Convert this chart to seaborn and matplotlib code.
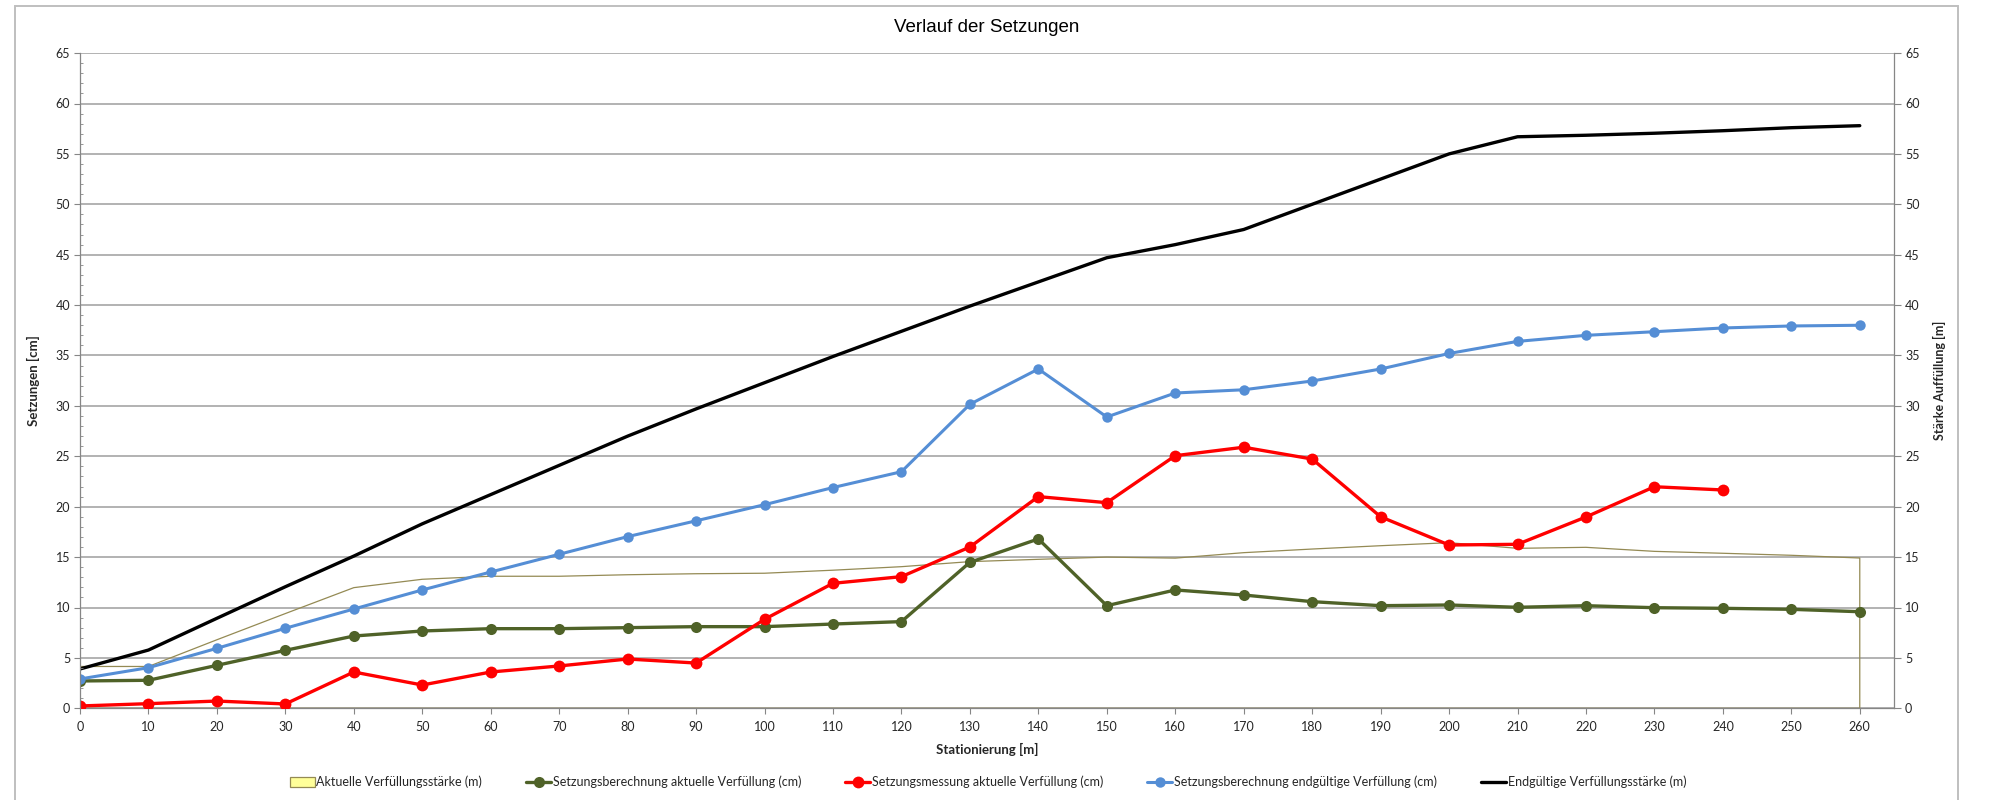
import numpy as np
import pandas as pd
import matplotlib
matplotlib.use("Agg")
import matplotlib.pyplot as plt
from matplotlib.patches import Patch, Rectangle
from matplotlib.lines import Line2D
from matplotlib.ticker import MultipleLocator
import seaborn as sns

# ---------------- data ----------------
stations = [0, 10, 20, 30, 40, 50, 60, 70, 80, 90, 100, 110, 120, 130,
            140, 150, 160, 170, 180, 190, 200, 210, 220, 230, 240, 250, 260]
aktuelle_verfuellung_m = [4.15, 4.15, 6.8, 9.4, 11.97, 12.8, 13.1, 13.1, 13.25, 13.35,
                          13.4, 13.7, 14.05, 14.55, 14.78, 15.0, 14.9, 15.44, 15.8,
                          16.13, 16.43, 15.87, 15.97, 15.57, 15.38, 15.18, 14.91]
setzung_berechnung_aktuell_cm = [2.71, 2.78, 4.26, 5.75, 7.17, 7.67, 7.9, 7.9, 8.0, 8.1,
                                 8.1, 8.36, 8.6, 14.48, 16.8, 10.18, 11.74, 11.24, 10.58,
                                 10.18, 10.25, 10.02, 10.18, 9.98, 9.92, 9.82, 9.58]
setzung_messung_aktuell_cm = [0.23, 0.46, 0.72, 0.43, 3.6, 2.31, 3.6, 4.2, 4.89, 4.49,
                              8.83, 12.4, 13.06, 16.0, 21.0, 20.4, 25.06, 25.9, 24.73,
                              19.0, 16.2, 16.27, 18.98, 21.98, 21.66, np.nan, np.nan]
setzung_berechnung_endgueltig_cm = [2.91, 4.03, 5.95, 7.94, 9.85, 11.74, 13.52, 15.28, 17.03,
                                    18.6, 20.2, 21.9, 23.47, 30.16, 33.66, 28.9, 31.28, 31.6,
                                    32.47, 33.66, 35.2, 36.4, 37.0, 37.36, 37.73, 37.93, 38.0]
endgueltige_verfuellung_m = [3.9, 5.78, 8.93, 12.06, 15.1, 18.3, 21.2, 24.1, 27.0, 29.7,
                             32.3, 34.9, 37.4, 39.9, 42.3, 44.7, 46.0, 47.5, 50.0, 52.5,
                             55.0, 56.7, 56.85, 57.05, 57.3, 57.6, 57.8]

labels = ["Aktuelle Verfüllungsstärke (m)",
          "Setzungsberechnung aktuelle Verfüllung (cm)",
          "Setzungsmessung aktuelle Verfüllung (cm)",
          "Setzungsberechnung endgültige Verfüllung (cm)",
          "Endgültige Verfüllungsstärke (m)"]
title = "Verlauf der Setzungen"
xlabel = "Stationierung [m]"
ylabel_left = "Setzungen [cm]"
ylabel_right = "Stärke Auffüllung [m]"

# ---------------- style ----------------
sns.set_theme(style="white")
plt.rcParams['font.family'] = ['Lato', 'DejaVu Sans']

C_GREEN = "#4F6228"
C_RED = "#FF0000"
C_BLUE = "#558ED5"
C_BLACK = "#000000"
C_AREA = "#948A54"
C_GRID = "#A6A6A6"
C_AXIS = "#868686"
C_TEXT = "#262626"

MS_GREEN, MS_RED, MS_BLUE = 8.0, 8.5, 7.5

W, H = 1991, 800
fig = plt.figure(figsize=(W / 100, H / 100), dpi=100)
left, right = 80 / W, 1894 / W
bottom, top = 1 - 708.3 / H, 1 - 53.1 / H
base = fig.add_axes([left, bottom, right - left, top - bottom])   # secondary y (right) + x axis + grid
ax = base.twinx()                                                  # primary y (left), drawn on top
ax.yaxis.tick_left()
ax.yaxis.set_label_position("left")
base.yaxis.tick_right()
base.yaxis.set_label_position("right")
ax.set_zorder(base.get_zorder() + 1)
ax.patch.set_visible(False)

df = pd.DataFrame({
    "station": stations,
    "akt_m": aktuelle_verfuellung_m,
    "ber_akt": setzung_berechnung_aktuell_cm,
    "mess": setzung_messung_aktuell_cm,
    "ber_end": setzung_berechnung_endgueltig_cm,
    "end_m": endgueltige_verfuellung_m,
})

# secondary axis: area outline and final fill thickness
base.fill_between(df["station"], 0, df["akt_m"], facecolor="none",
                  edgecolor=C_AREA, linewidth=0.9, zorder=2)
sns.lineplot(data=df, x="station", y="end_m", ax=base, color=C_BLACK,
             linewidth=2.4, legend=False, zorder=3)

# primary axis
sns.lineplot(data=df, x="station", y="ber_akt", ax=ax, color=C_GREEN,
             linewidth=2.4, marker="o", markersize=MS_GREEN, markeredgewidth=0,
             legend=False)
dm = df[df["mess"].notna()]
sns.lineplot(data=dm, x="station", y="mess", ax=ax, color=C_RED,
             linewidth=2.4, marker="o", markersize=MS_RED, markeredgewidth=0,
             legend=False)
sns.lineplot(data=df, x="station", y="ber_end", ax=ax, color=C_BLUE,
             linewidth=2.2, marker="o", markersize=MS_BLUE, markeredgewidth=0,
             legend=False)

for a in (ax, base):
    a.set_xlim(0, 265)
    a.set_ylim(0, 65)
    a.yaxis.set_major_locator(MultipleLocator(5))
    for s in a.spines.values():
        s.set_visible(False)

base.xaxis.set_major_locator(MultipleLocator(10))
ax.yaxis.set_minor_locator(MultipleLocator(1))

base.grid(axis="y", color=C_GRID, linewidth=1.2)
base.grid(axis="x", visible=False)
ax.grid(False)

ax.spines["left"].set_visible(True)
ax.spines["left"].set_color(C_AXIS)
base.spines["bottom"].set_visible(True)
base.spines["bottom"].set_color(C_AXIS)
base.spines["right"].set_visible(True)
base.spines["right"].set_color(C_AXIS)
for sp in (ax.spines["left"], base.spines["bottom"], base.spines["right"]):
    sp.set_linewidth(0.9)

ax.tick_params(axis="y", which="major", direction="out", length=4, width=0.8,
               color=C_AXIS, labelsize=9, labelcolor=C_TEXT, pad=3, left=True)
ax.tick_params(axis="y", which="minor", direction="in", length=2.5, width=0.6,
               color=C_AXIS, left=True)
base.tick_params(axis="x", which="major", direction="out", length=4, width=0.8,
                 color=C_AXIS, labelsize=9, labelcolor=C_TEXT, pad=5, bottom=True)
base.tick_params(axis="y", which="major", direction="out", length=5, width=0.8,
                 color=C_AXIS, labelsize=9, labelcolor=C_TEXT, pad=3, right=True)

base.set_xlabel(xlabel, fontsize=9.5, fontweight="bold", color=C_TEXT)
base.xaxis.set_label_coords(0.5, -(743 - 708.3) / 655.2)
ax.set_ylabel(ylabel_left, fontsize=9.5, fontweight="bold", color=C_TEXT)
ax.yaxis.set_label_coords((40 - 80) / 1814, 0.5)
base.set_ylabel(ylabel_right, fontsize=9, fontweight="bold", color=C_TEXT,
                rotation=90)
base.yaxis.set_label_coords((1933 - 80) / 1814, 0.5)

fig.text(987 / W, 1 - 28 / H, title, ha="center", va="center",
         fontsize=13.5, family=["Liberation Sans", "DejaVu Sans"], color="#000000")

handles = [
    Patch(facecolor="#FFFF99", edgecolor=C_AREA, linewidth=0.9),
    Line2D([], [], color=C_GREEN, lw=2.4, marker="o", markersize=MS_GREEN, markeredgewidth=0),
    Line2D([], [], color=C_RED, lw=2.4, marker="o", markersize=MS_RED, markeredgewidth=0),
    Line2D([], [], color=C_BLUE, lw=2.2, marker="o", markersize=MS_BLUE, markeredgewidth=0),
    Line2D([], [], color=C_BLACK, lw=2.4),
]
leg = fig.legend(handles, labels, loc="center", bbox_to_anchor=(988 / W, 1 - 782 / H),
                 ncol=5, frameon=False, fontsize=9, handlelength=2.0,
                 handletextpad=0.15, columnspacing=3.5, handleheight=0.8)
for t in leg.get_texts():
    t.set_color(C_TEXT)

# chart area frame
fig.add_artist(Rectangle((15 / W, -0.02), (1958 - 15) / W, 1 - 6 / H + 0.02,
                         transform=fig.transFigure, fill=False,
                         edgecolor="#BFBFBF", linewidth=1.4))

fig.savefig("out.png", dpi=100)
